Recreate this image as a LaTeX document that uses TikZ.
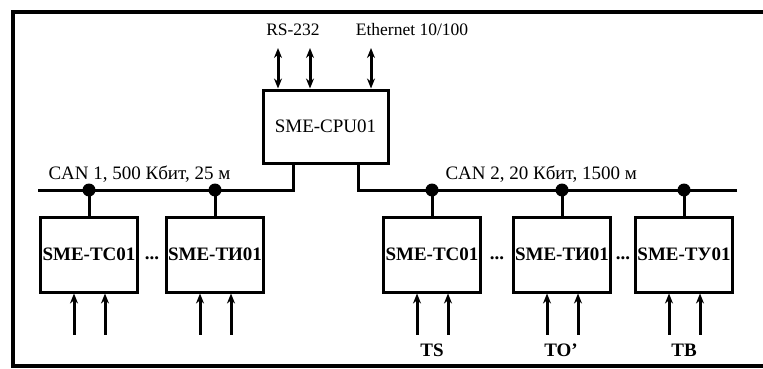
\documentclass[tikz,border=0pt]{standalone}
\usepackage{fontspec}
\setmainfont{Liberation Serif}
\usetikzlibrary{arrows.meta}
\tikzset{
  module/.style={draw, line width=3pt, minimum width=97pt, minimum height=75pt, inner sep=0pt, font=\fontsize{19}{22}\selectfont\bfseries},
  cpubox/.style={module, minimum width=125pt, minimum height=73pt, font=\fontsize{19}{22}\selectfont},
  bus/.style={line width=3pt},
  link/.style={line width=3pt, -{Stealth[length=10pt,width=8pt]}},
  toplabel/.style={font=\fontsize{17.5}{20}\selectfont},
  buslabel/.style={font=\fontsize{19}{22}\selectfont},
  inlabel/.style={font=\fontsize{19}{22}\selectfont\bfseries}
}
\begin{document}
\begin{tikzpicture}[x=1pt,y=-1pt]
  \useasboundingbox (0,0) rectangle (763,369);
  \draw[line width=4pt] (763,12) -- (13,12) -- (13,366) -- (763,366);
  \node[cpubox] (cpu) at (325.5,126.5) {SME-CPU01};
  \node[toplabel] (rs) at (293,30) {RS-232};
  \node[toplabel] (eth) at (412,30) {Ethernet 10/100};
  \foreach \x/\n in {278/a,310/b,371/c} {
    \coordinate (top\n) at (\x,48);
    \draw[link, {Stealth[length=10pt,width=8pt]}-{Stealth[length=10pt,width=8pt]}] (top\n) -- (top\n |- cpu.north);
  }
  \coordinate (busL) at (38,190);
  \coordinate (busR) at (737,190);
  \draw[bus] (busL) -| ([xshift=-32.5pt]cpu.south);
  \draw[bus] (busR) -| ([xshift=32.5pt]cpu.south);
  \node[buslabel, anchor=base west] (can1) at (45,179) {CAN 1, 500 Кбит, 25 м};
  \node[buslabel, anchor=base west] (can2) at (442,179) {CAN 2, 20 Кбит, 1500 м};
  \foreach \n/\x/\t in {tc1/89/SME-TC01, ti1/215/SME-TИ01, tc2/432/SME-TC01, ti2/562/SME-TИ01, tu2/684/SME-TУ01} {
    \node[module] (\n) at (\x,254.5) {\t};
    \fill (\n.north |- busL) circle (6.5pt);
    \draw[bus] (\n.north |- busL) -- (\n.north);
    \path (\n.south) ++(-15,41) coordinate (\n-a) (\n.south) ++(16,41) coordinate (\n-b);
    \draw[link] (\n-a) -- (\n-a |- \n.south);
    \draw[link] (\n-b) -- (\n-b |- \n.south);
  }
  \foreach \a/\b/\g in {tc1/ti1/g1, tc2/ti2/g2, ti2/tu2/g3}
    \path (\a.east) -- (\b.west) node[midway, inlabel, yshift=-4pt, inner sep=0pt] (\g) {...};
  \node[inlabel] (ts) at (432,350) {TS};
  \node[inlabel] (to) at (561,350) {TO'};
  \node[inlabel] (tb) at (684,350) {TB};
\end{tikzpicture}
\end{document}
